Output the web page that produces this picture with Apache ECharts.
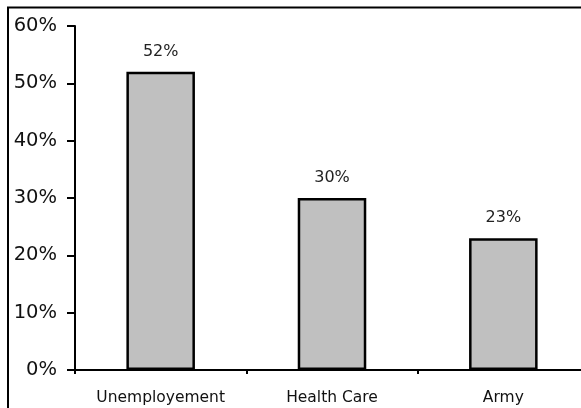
<!DOCTYPE html>
<html>
<head>
<meta charset="utf-8">
<style>
  html, body { margin: 0; padding: 0; background: #fff; overflow: hidden; }
  /* canvas is wider than the window: the source picture is cropped on the right */
  #chart { width: 600px; height: 408px; }
</style>
<script src="https://cdn.jsdelivr.net/npm/echarts@6/dist/echarts.min.js"></script>
</head>
<body>
<div id="chart"></div>
<script>
// values
var categories = ["Unemployement", "Health Care", "Army"];
var shares = [52, 30, 23];
var yTicks = [0, 10, 20, 30, 40, 50, 60];

var chart = echarts.init(document.getElementById("chart"));

chart.setOption({
  animation: false,
  backgroundColor: "#fff",
  textStyle: { fontFamily: "DejaVu Sans" },
  graphic: [
    {
      // outer frame, only top and left edges are visible in the crop
      type: "rect",
      shape: { x: 8, y: 7.5, width: 700, height: 600 },
      style: { fill: "none", stroke: "#000", lineWidth: 2 },
      silent: true
    }
  ],
  grid: {
    left: 75,
    top: 26,
    width: 514,
    height: 344,
    containLabel: false
  },
  xAxis: {
    type: "category",
    data: categories,
    boundaryGap: true,
    axisLine: { lineStyle: { color: "#000", width: 2 } },
    axisTick: { show: true, length: 4, inside: false, lineStyle: { color: "#000", width: 2 } },
    axisLabel: { color: "#111", fontSize: 15.5, margin: 20, fontFamily: "DejaVu Sans" },
    splitLine: { show: false }
  },
  yAxis: {
    type: "value",
    min: yTicks[0],
    max: yTicks[yTicks.length - 1],
    interval: 10,
    axisLine: { show: true, lineStyle: { color: "#000", width: 2 } },
    axisTick: { show: true, length: 8, lineStyle: { color: "#000", width: 2 } },
    axisLabel: {
      color: "#111",
      fontSize: 19.5,
      margin: 18,
      fontFamily: "DejaVu Sans",
      formatter: "{value}%"
    },
    splitLine: { show: false }
  },
  series: [
    {
      type: "bar",
      data: shares,
      barWidth: "40%",
      itemStyle: { color: "#c0c0c0", borderColor: "#000", borderWidth: 2.5 },
      label: {
        show: true,
        position: "top",
        distance: 12,
        color: "#222",
        fontSize: 16,
        fontFamily: "DejaVu Sans",
        formatter: "{c}%"
      }
    }
  ]
});
</script>
</body>
</html>
